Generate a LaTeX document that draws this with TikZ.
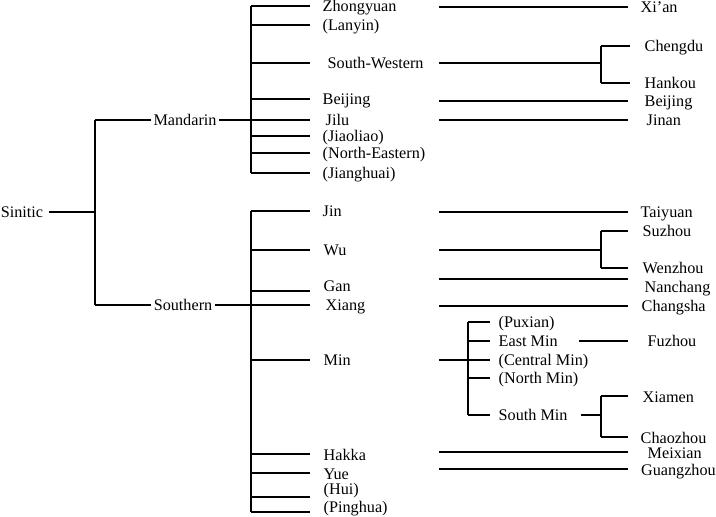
\documentclass[tikz,border=0pt]{standalone}
\usepackage{fontspec}
\setmainfont{Liberation Serif}
\begin{document}
\begin{tikzpicture}[x=0.5pt,y=-0.5pt,line width=0.7pt,
  every node/.style={font=\fontsize{8.1}{9.7}\selectfont,text height=6.8pt,text depth=0.8pt},
  lbl/.style={anchor=west,inner xsep=6pt,inner ysep=0pt},
  raised/.style={anchor=south west,inner ysep=-1.5pt},
  leaf/.style={anchor=west,inner xsep=7pt,inner ysep=0pt},
  sub/.style={anchor=west,inner xsep=4pt,inner ysep=0pt}]
\useasboundingbox (0,0) rectangle (716,517);
\coordinate (root) at (95,0);
\coordinate (mbar) at (251,0);
\coordinate (rcol) at (439,0);
\coordinate (minbar) at (468,0);
\coordinate (cbar) at (601,0);
% top level
\node[inner xsep=2.5pt] (sinitic) at (22,212) {Sinitic};
\node[inner xsep=1pt] (mandarin) at (185,120) {Mandarin};
\node[inner xsep=1pt] (southern) at (183,305) {Southern};
\draw (sinitic.east) -- (sinitic.east -| root);
\draw (mandarin.west -| root) -- (southern.west -| root);
\draw (mandarin.west -| root) -- (mandarin.west);
\draw (southern.west -| root) -- (southern.west);
% Mandarin
\node[lbl] (zhongyuan) at (310,6) {Zhongyuan};
\node[lbl] (lanyin) at (310,25) {(Lanyin)};
\node[lbl,inner xsep=8.5pt] (southwestern) at (310,63) {South-Western};
\node[lbl] (beijing) at (310,99) {Beijing};
\node[lbl,inner xsep=7.5pt] (jilu) at (310,120) {Jilu};
\node[lbl] (jiaoliao) at (310,136) {(Jiaoliao)};
\node[lbl] (northeastern) at (310,153) {(North-Eastern)};
\node[lbl] (jianghuai) at (310,173) {(Jianghuai)};
\draw (mbar |- zhongyuan.west) -- (mbar |- jianghuai.west);
\draw (mandarin.east) -- (jilu.west);
\draw (mbar |- zhongyuan.west) -- (zhongyuan.west);
\draw (mbar |- lanyin.west) -- (lanyin.west);
\draw (mbar |- southwestern.west) -- (southwestern.west);
\draw (mbar |- beijing.west) -- (beijing.west);
\draw (mbar |- jiaoliao.west) -- (jiaoliao.west);
\draw (mbar |- northeastern.west) -- (northeastern.west);
\draw (mbar |- jianghuai.west) -- (jianghuai.west);
% Mandarin cities
\node[leaf,inner xsep=6pt] (xian) at (628,7) {Xi’an};
\node[leaf] (chengdu) at (630,46) {Chengdu};
\node[leaf] (hankou) at (630,83) {Hankou};
\node[leaf,inner xsep=8pt] (beijingc) at (628,101) {Beijing};
\node[leaf,inner xsep=9pt] (jinan) at (628,120) {Jinan};
\draw (rcol |- xian.west) -- (xian.west);
\draw (rcol |- southwestern.west) -- (cbar |- southwestern.west);
\draw (cbar |- chengdu.west) -- (cbar |- hankou.west);
\draw (cbar |- chengdu.west) -- (chengdu.west);
\draw (cbar |- hankou.west) -- (hankou.west);
\draw (rcol |- beijingc.west) -- (beijingc.west);
\draw (rcol |- jinan.west) -- (jinan.west);
% Southern
\node[lbl] (jin) at (310,211) {Jin};
\node[lbl,inner xsep=6.5pt] (wu) at (310,250) {Wu};
\node[lbl,raised,inner xsep=6.5pt] (gan) at (310,291) {Gan};
\node[lbl,inner xsep=7.5pt] (xiang) at (310,305) {Xiang};
\node[lbl,inner xsep=6.5pt] (min) at (310,360) {Min};
\node[lbl,inner xsep=6.5pt] (hakka) at (310,454) {Hakka};
\node[lbl,inner xsep=6.5pt] (yue) at (310,473) {Yue};
\node[lbl,anchor=south west,inner xsep=6.5pt] (hui) at (310,497) {(Hui)};
\node[lbl,raised,inner xsep=6.5pt] (pinghua) at (310,512) {(Pinghua)};
\draw (mbar |- jin.west) -- (mbar |- pinghua.south west);
\draw (southern.east) -- (xiang.west);
\draw (mbar |- jin.west) -- (jin.west);
\draw (mbar |- wu.west) -- (wu.west);
\draw (mbar |- gan.south west) -- (gan.south west);
\draw (mbar |- min.west) -- (min.west);
\draw (mbar |- hakka.west) -- (hakka.west);
\draw (mbar |- yue.west) -- (yue.west);
\draw (mbar |- hui.south west) -- (hui.south west);
\draw (mbar |- pinghua.south west) -- (pinghua.south west);
% Southern cities
\node[leaf,inner xsep=6pt] (taiyuan) at (628,212) {Taiyuan};
\node[leaf] (suzhou) at (628,231) {Suzhou};
\node[leaf] (wenzhou) at (628,268) {Wenzhou};
\node[leaf,inner xsep=8pt] (nanchang) at (628,287) {Nanchang};
\node[leaf,inner xsep=6.5pt] (changsha) at (628,306) {Changsha};
\coordinate (ganline) at ([yshift=4pt]nanchang.west);
\draw (rcol |- taiyuan.west) -- (taiyuan.west);
\draw (rcol |- wu.west) -- (cbar |- wu.west);
\draw (cbar |- suzhou.west) -- (cbar |- wenzhou.west);
\draw (cbar |- suzhou.west) -- (suzhou.west);
\draw (cbar |- wenzhou.west) -- (wenzhou.west);
\draw (rcol |- ganline) -- (ganline);
\draw (rcol |- changsha.west) -- (changsha.west);
% Min
\node[sub] (puxian) at (490,322) {(Puxian)};
\node[sub] (eastmin) at (490,341) {East Min};
\node[sub] (centralmin) at (490,360) {(Central Min)};
\node[sub] (northmin) at (490,378) {(North Min)};
\node[sub] (southmin) at (490,415) {South Min};
\draw (rcol |- centralmin.west) -- (centralmin.west);
\draw (minbar |- puxian.west) -- (minbar |- southmin.west);
\draw (minbar |- puxian.west) -- (puxian.west);
\draw (minbar |- eastmin.west) -- (eastmin.west);
\draw (minbar |- northmin.west) -- (northmin.west);
\draw (minbar |- southmin.west) -- (southmin.west);
\node[leaf,inner xsep=9.5pt] (fuzhou) at (628,341) {Fuzhou};
\node[leaf] (xiamen) at (628,396) {Xiamen};
\node[leaf,inner xsep=6pt] (chaozhou) at (628,437) {Chaozhou};
\draw ([xshift=6.5pt]eastmin.east) -- (fuzhou.west);
\draw ([xshift=2.5pt]southmin.east) -- (cbar |- southmin.west);
\draw (cbar |- xiamen.west) -- (cbar |- chaozhou.west);
\draw (cbar |- xiamen.west) -- (xiamen.west);
\draw (cbar |- chaozhou.west) -- (chaozhou.west);
% Hakka, Yue
\node[leaf,inner xsep=9.5pt] (meixian) at (628,452) {Meixian};
\node[leaf,inner xsep=6.2pt] (guangzhou) at (628,469) {Guangzhou};
\draw (rcol |- meixian.west) -- (meixian.west);
\draw (rcol |- guangzhou.west) -- (guangzhou.west);
\end{tikzpicture}
\end{document}
